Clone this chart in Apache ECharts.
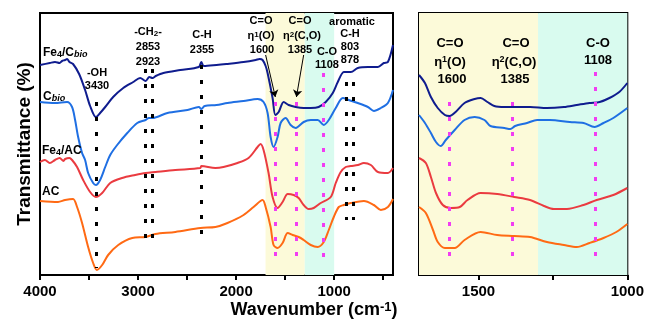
<!DOCTYPE html>
<html><head><meta charset="utf-8">
<script src="https://cdn.jsdelivr.net/npm/echarts@6/dist/echarts.min.js"></script>
<style>html,body{margin:0;padding:0;background:#fff}#c{width:647px;height:321px}</style>
</head><body><div id="c"></div>
<script>
// ---- data: [wavenumber (cm-1), transmittance (a.u., offset)] ----
const fe4Cbio = [[4000,210],[3900,212],[3847,213],[3800,212],[3775,214],[3744,215],[3724,216],[3700,213],[3663,211],[3601,201],[3540,185],[3489,169],[3430,158],[3387,162],[3335,168],[3254,178],[3151,187],[3049,193],[2978,197],[2923,194],[2885,198],[2853,197],[2820,199],[2742,202],[2569,205],[2380,208],[2355,213],[2330,209],[2200,210],[2100,211],[1924,213],[1800,215],[1760,216],[1730,215],[1699,209],[1679,202],[1628,177],[1600,160],[1566,163],[1515,173],[1464,170],[1393,168],[1311,167],[1239,167],[1158,168],[1086,173],[1014,182],[963,193],[902,203],[878,203],[830,203],[759,207],[656,208],[554,208],[493,212],[452,213],[400,230]];
const cbio = [[4000,173],[3850,172],[3724,173],[3673,168],[3642,155],[3611,138],[3571,122],[3540,115],[3509,102],[3458,92],[3430,90],[3387,95],[3335,108],[3284,120],[3213,130],[3110,142],[3008,152],[2923,155],[2890,157],[2853,157],[2700,162],[2496,165],[2380,168],[2355,166],[2320,169],[2200,170],[2088,172],[1924,174],[1781,176],[1720,173],[1679,162],[1648,138],[1618,128],[1577,138],[1546,152],[1495,157],[1444,150],[1393,147],[1372,148],[1311,153],[1239,155],[1168,155],[1106,150],[1055,155],[984,167],[912,177],[851,175],[759,172],[656,168],[595,164],[524,167],[452,172],[400,185]];
const fe4AC = [[4000,113],[3950,115],[3900,112],[3847,115],[3800,117],[3760,114],[3744,116],[3700,117],[3673,115],[3622,108],[3560,95],[3489,83],[3430,78],[3366,82],[3284,92],[3162,97],[3029,100],[2923,102],[2824,103],[2620,105],[2364,107],[2355,109],[2211,107],[2129,108],[1986,112],[1873,117],[1781,128],[1751,131],[1720,125],[1669,102],[1628,78],[1577,67],[1526,73],[1474,81],[1413,80],[1362,77],[1311,70],[1260,66],[1209,67],[1137,72],[1035,78],[984,92],[933,103],[882,108],[830,109],[759,110],[697,112],[626,110],[554,103],[452,102],[400,107]];
const ac = [[4000,74],[3816,73],[3744,75],[3663,76],[3622,68],[3571,52],[3509,28],[3458,12],[3420,5],[3366,10],[3305,20],[3202,30],[3059,37],[2923,38],[2824,41],[2620,43],[2364,47],[2211,48],[2088,52],[1924,60],[1822,68],[1730,75],[1699,68],[1648,48],[1618,30],[1577,27],[1526,32],[1474,42],[1423,40],[1362,38],[1311,35],[1239,30],[1168,28],[1106,33],[1055,45],[1004,58],[953,68],[902,70],[830,72],[697,74],[595,70],[524,65],[452,68],[400,76]];
// zoomed panel (1700-1000 cm-1)
const fe4CbioZoom = [[1700,200],[1680,192],[1660,178],[1637,167],[1613,160],[1597,159],[1577,163],[1547,172],[1513,176],[1493,177],[1470,173],[1447,169],[1413,168],[1380,168],[1327,168],[1270,167],[1213,168],[1170,170],[1127,172],[1093,173],[1060,177],[1027,183],[1000,192]];
const cbioZoom = [[1700,160],[1680,152],[1660,142],[1643,133],[1627,129],[1610,135],[1580,145],[1547,155],[1513,158],[1480,155],[1460,149],[1413,147],[1393,146],[1377,149],[1337,152],[1303,155],[1260,155],[1193,153],[1147,152],[1110,148],[1080,152],[1047,157],[1000,167]];
const fe4ACZoom = [[1700,117],[1677,112],[1660,98],[1643,82],[1620,70],[1593,67],[1563,68],[1537,75],[1493,82],[1437,81],[1380,78],[1327,75],[1280,69],[1247,66],[1203,66],[1147,70],[1103,75],[1047,80],[1000,87]];
const acZoom = [[1700,68],[1677,62],[1653,45],[1637,33],[1613,27],[1580,27],[1547,35],[1493,43],[1437,40],[1380,39],[1327,38],[1270,33],[1213,30],[1170,28],[1127,32],[1080,37],[1037,43],[1000,51]];
const seriesNames = ['Fe4/Cbio','Cbio','Fe4/AC','AC'];
const peaksBlack = [3430, 2923, 2853, 2355, 878, 803];
const peaksOxy = [1600, 1385, 1108];
const bandCO = [1700, 1300];   // C=O region
const bandCO2 = [1300, 1000];  // C-O region
const leftTicks = [500,1000,1500,2000,2500,3000,3500,4000];
const leftLabels = [1000,2000,3000,4000];
const rightTicks = [1000,1250,1500];
const rightLabels = [1000,1500];

const colors = ['#0f1c8e','#1f6fe3','#ea3b40','#ff6a14'];
const FF = '"Liberation Sans", Arial, sans-serif';
const YEL = '#fcfad9', CY = '#d9fbef', MAG = '#f23cf2';

const chart = echarts.init(document.getElementById('c'), null, {renderer:'canvas'});

function rich(size){
  const sub = Math.round(size*0.72);
  return {
    s:{fontSize:sub, fontWeight:'bold', fontFamily:FF, fill:'#000', verticalAlign:'bottom'},
    i:{fontSize:sub, fontWeight:'bold', fontStyle:'italic', fontFamily:FF, fill:'#000', verticalAlign:'bottom'},
    u:{fontSize:sub, fontWeight:'bold', fontFamily:FF, fill:'#000', verticalAlign:'top'},
    a:{fontSize:size, fontWeight:'bold', fontFamily:FF, fill:'#000'}
  };
}
function T(x, y, text, size, align){
  return {type:'text', x:x, y:y, silent:true, z:100,
    style:{text:text, fontSize:size, fontWeight:'bold', fontFamily:FF, fill:'#000',
      align: align || 'center', verticalAlign:'middle', rich: rich(size)}};
}

function lineSeries(data, color, xi){
  return {type:'line', xAxisIndex:xi, yAxisIndex:xi, data:data, symbol:'none', showSymbol:false,
    smooth:0.3, lineStyle:{color:color, width:2}, z:3, animation:false, silent:true};
}
function dotted(wn, from, to, color){
  return [{coord:[wn, from], lineStyle:{color:color, width:3, type:[4,11]}}, {coord:[wn, to]}];
}
function arrow(x0, y0, x1, y1){
  return [{coord:[x0,y0], lineStyle:{color:'#000', width:1, type:'solid'}, symbol:'none'}, {coord:[x1,y1], symbol:'arrow', symbolSize:7}];
}

const leftDots = [];
peaksBlack.forEach(p=>{
  let f=206,t=36;
  if(p===3430){f=173;t=7;}
  if(p===2355){f=210;t=36;}
  if(p<1000){f=193;t=55;}
  leftDots.push(dotted(p,f,t,'#000'));
});
peaksOxy.forEach(p=>{ leftDots.push(dotted(p, p===1108?202:173, 18, MAG)); });
const rightDots = peaksOxy.map(p=>dotted(p, p===1108?203:173, 17, MAG));

function bandSeries(xi){
  return {type:'line', xAxisIndex:xi, yAxisIndex:xi, data:[], z:1, silent:true, animation:false,
    markArea:{silent:true, data:[
      [{xAxis:bandCO[0], itemStyle:{color:YEL}},{xAxis:bandCO[1]}],
      [{xAxis:bandCO2[0], itemStyle:{color:CY}},{xAxis:bandCO2[1]}]
    ]}};
}
function markSeries(xi, lines){
  return {type:'line', xAxisIndex:xi, yAxisIndex:xi, data:[], z:5, silent:true, animation:false,
    markLine:{silent:true, animation:false, symbol:'none', label:{show:false}, data:lines}};
}

const axisLbl = {fontSize:15, fontWeight:'bold', fontFamily:FF, color:'#000', margin:9, formatter:v=>String(v)};
const option = {
  animation:false,
  grid:[
    {left:40, top:13, width:353, height:262, show:true, borderColor:'#000', borderWidth:2, backgroundColor:'transparent'},
    {left:419, top:13, width:212, height:262, show:true, borderColor:'#000', borderWidth:2, backgroundColor:'transparent'}
  ],
  xAxis:[
    {type:'value', gridIndex:0, min:400, max:4000, inverse:true, splitLine:{show:false},
      axisLine:{onZero:false, lineStyle:{color:'#000', width:2}},
      axisTick:{inside:false, length:5, lineStyle:{width:2, color:'#000'}, customValues:leftTicks},
      axisLabel:Object.assign({customValues:leftLabels}, axisLbl)},
    {type:'value', gridIndex:1, min:1000, max:1700, inverse:true, splitLine:{show:false},
      axisLine:{onZero:false, lineStyle:{color:'#000', width:2}},
      axisTick:{inside:false, length:5, lineStyle:{width:2, color:'#000'}, customValues:rightTicks},
      axisLabel:Object.assign({customValues:rightLabels}, axisLbl)}
  ],
  yAxis:[
    {type:'value', gridIndex:0, min:0, max:262, splitLine:{show:false}, axisTick:{show:false}, axisLabel:{show:false},
      axisLine:{show:true, onZero:false, lineStyle:{color:'#000', width:2}},
      name:'Transmittance (%)', nameLocation:'middle', nameGap:6,
      nameTextStyle:{fontSize:19, fontWeight:'bold', fontFamily:FF, color:'#000'}},
    {type:'value', gridIndex:1, min:0, max:262, splitLine:{show:false}, axisTick:{show:false}, axisLabel:{show:false},
      axisLine:{show:true, onZero:false, lineStyle:{color:'#000', width:2}}}
  ],
  series:[
    bandSeries(0), bandSeries(1),
    lineSeries(fe4Cbio, colors[0], 0), lineSeries(cbio, colors[1], 0),
    lineSeries(fe4AC, colors[2], 0), lineSeries(ac, colors[3], 0),
    lineSeries(fe4CbioZoom, colors[0], 1), lineSeries(cbioZoom, colors[1], 1),
    lineSeries(fe4ACZoom, colors[2], 1), lineSeries(acZoom, colors[3], 1),
    markSeries(0, leftDots.concat([arrow(1699,220,1600,178), arrow(1311,220,1385,178)])),
    markSeries(1, rightDots)
  ],
  graphic:[
    // series labels
    T(43,53,'Fe{s|4}/C{i|bio}',12,'left'),
    T(43,97,'C{i|bio}',12,'left'),
    T(42,151,'Fe{s|4}/AC',12,'left'),
    T(42,192,'AC',12,'left'),
    // left annotations
    T(97,73,'-OH',11), T(97,86,'3430',11),
    T(148,32,'-CH{s|2}-',11), T(148,47,'2853',11), T(148,62,'2923',11),
    T(202,35,'C-H',11), T(202,50,'2355',11),
    T(261,21,'C=O',11), T(261,36,'η{u|1}(O)',11), T(262,50,'1600',11),
    T(300,21,'C=O',11), T(302,36,'η{u|2}(C,O)',11), T(300,50,'1385',11),
    T(327,52,'C-O',11), T(327,65,'1108',11),
    T(352,22,'aromatic',11), T(350,34,'C-H',11), T(350,47,'803',11), T(350,60,'878',11),
    // right annotations
    T(450,43,'C=O',13), T(450,62,'η{u|1}(O)',13), T(452,79,'1600',13),
    T(516,43,'C=O',13), T(514,62,'η{u|2}(C,O)',13), T(515,79,'1385',13),
    T(598,43,'C-O',13), T(598,60,'1108',13),
    // x axis title
    T(314,310,'Wavenumber (cm{u|-1})',18)
  ]
};
chart.setOption(option);
</script></body></html>
